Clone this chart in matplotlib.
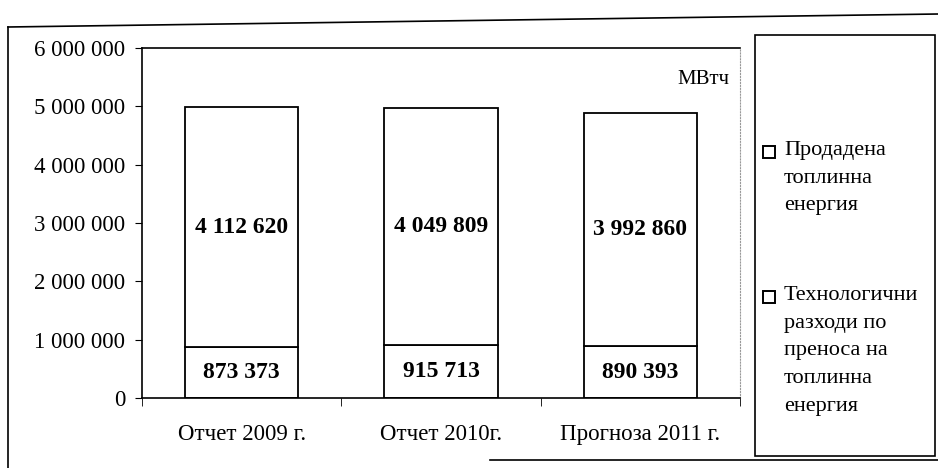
import matplotlib.pyplot as plt
from matplotlib.patches import Rectangle
from matplotlib.lines import Line2D

plt.rcParams['font.family'] = ['Liberation Serif', 'DejaVu Serif']

# ДАННИ
categories = ["Отчет 2009 г.", "Отчет 2010г.", "Прогноза 2011 г."]
losses = [873373, 915713, 890393]      # технологични разходи
sold = [4112620, 4049809, 3992860]     # продадена топлинна енергия
yticks = [0, 1000000, 2000000, 3000000, 4000000, 5000000, 6000000]
legend_labels = ["Продадена\nтоплинна\nенергия",
                 "Технологични\nразходи по\nпреноса на\nтоплинна\nенергия"]


def fmt(v):
    return "{:,}".format(v).replace(",", " ")


W, H = 938, 468
fig = plt.figure(figsize=(W / 100, H / 100), dpi=100)
ax = fig.add_axes([142 / W, 1 - 398 / H, (740 - 142) / W, (398 - 48) / H])

x = range(len(categories))
b1 = ax.bar(x, losses, width=0.57, color="white", edgecolor="black", linewidth=1.3)
b2 = ax.bar(x, sold, width=0.57, bottom=losses, color="white", edgecolor="black", linewidth=1.3)

for i in x:
    ax.text(i, losses[i] / 2, fmt(losses[i]), ha="center", va="center",
            fontsize=17, fontweight="bold")
    ax.text(i, losses[i] + sold[i] / 2, fmt(sold[i]), ha="center", va="center",
            fontsize=17, fontweight="bold")

ax.set_xlim(-0.5, 2.5)
ax.set_ylim(0, 6000000)
ax.set_yticks(yticks)
ax.set_yticklabels([fmt(v) for v in yticks], fontsize=16.5)
ax.set_xticks([0, 1, 2])
ax.set_xticklabels(categories, fontsize=16.5)
ax.set_xticks([-0.5, 0.5, 1.5, 2.5], minor=True)
ax.tick_params(axis="x", which="major", length=0, pad=19)
ax.tick_params(axis="x", which="minor", length=6, direction="out")
ax.tick_params(axis="y", length=5, direction="out", pad=7)

for s in ["left", "bottom", "top"]:
    ax.spines[s].set_linewidth(1.2)
ax.spines["right"].set_color("#999999")
ax.spines["right"].set_linestyle(":")

ax.text(0.982, 0.91, "МВтч", transform=ax.transAxes, ha="right", va="center", fontsize=15)

# рамка на легендата
fig.patches.append(Rectangle((755 / W, 1 - 456 / H), 180 / W, (456 - 35) / H,
                             transform=fig.transFigure, fill=False,
                             edgecolor="black", linewidth=1.2))

# легенда
leg_y = [152, 297]
for lab, bars, yy in zip(legend_labels, [b2, b1], leg_y):
    fig.patches.append(Rectangle((763 / W, 1 - (yy + 6) / H), 12 / W, 12 / H,
                                 transform=fig.transFigure,
                                 facecolor=bars[0].get_facecolor(),
                                 edgecolor="black", linewidth=1.4))
    fig.text(784 / W, 1 - (yy - 11) / H, lab, ha="left", va="top",
             fontsize=16, linespacing=1.62)

# външна рамка
fig.lines.append(Line2D([8 / W, 8 / W], [0, 1 - 27 / H], transform=fig.transFigure,
                        color="black", linewidth=1.2))
fig.lines.append(Line2D([8 / W, 1], [1 - 27 / H, 1 - 14 / H], transform=fig.transFigure,
                        color="black", linewidth=1.2))
fig.lines.append(Line2D([490 / W, 1], [1 - 460 / H, 1 - 460 / H], transform=fig.transFigure,
                        color="black", linewidth=1.2))

fig.savefig("out.png", dpi=100)
